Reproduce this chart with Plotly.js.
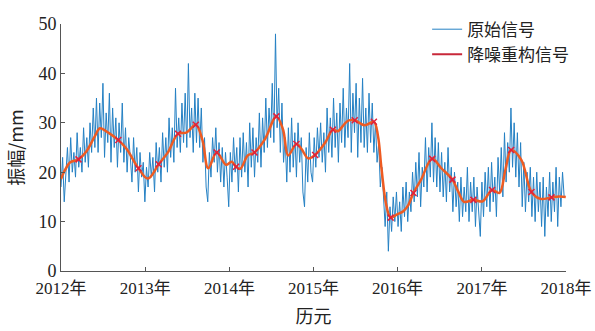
<!DOCTYPE html>
<html>
<head>
<meta charset="utf-8">
<script src="https://cdn.plot.ly/plotly-3.0.1.min.js"></script>
<style>html,body{margin:0;padding:0;background:#fff;}#chart{width:595px;height:331px;}</style>
</head>
<body>
<div id="chart"></div>
<script>
// Raw signal: weekly samples starting 2012-01-01
const rawStart = '2012-01-01';
const rawStepDays = 7;
const raw2012 = [17,23,14,21,25, 18,27,20,24, 19,28,21,25, 20,29,22,27,21, 30,24,33,25, 35,24,34,27, 38,23,32,26,36, 22,33,25,31, 21,30,24,34, 22,29,20,27,23, 18,27,20,25, 16,24,19,22];
const raw2013 = [14,21,17,24,19, 23,16,26,20, 25,18,28,21, 27,20,31,23,29, 22,37,25,31, 24,34,26,36, 25,42,27,33,24, 36,26,35,25, 33,22,27,17, 14,24,19,27,22, 29,20,26,18, 25,17,24,19];
const raw2014 = [13,24,18,27,20, 25,16,27,19, 28,20,26,17, 30,21,29,19,27, 22,32,21,31, 24,35,25,33, 27,38,26,48,29, 37,24,34,22, 27,18,29,20, 31,21,28,19,30, 22,27,16,13, 25,18,28,20];
const raw2015 = [18,27,21,29,23, 30,22,28,20, 33,24,31,23, 35,25,32,22,34, 26,37,25,33, 27,42,24,36, 28,38,23,35,26, 39,25,33,24, 36,26,34,24, 30,22,26,17,21, 14,9,16,4, 13,8,15,10];
const raw2016 = [16,9,14,8,17, 11,18,10,16, 12,20,14,22, 15,24,13,21,17, 27,16,25,19, 30,18,27,17, 26,16,24,15,22, 14,25,16,21, 12,20,13,18, 10,19,11,17,12, 21,10,18,12, 19,9,17,11];
const raw2017 = [7,18,11,20,13, 21,12,22,14, 19,11,23,16, 25,15,28,18,26, 20,33,21,30, 19,28,17,26, 13,22,12,20,14, 21,11,19,10, 20,12,18,9, 19,7,17,11,20, 10,18,12,21, 9,19,13,20,15];
const rawValues = [].concat(raw2012, raw2013, raw2014, raw2015, raw2016, raw2017);

// Denoised reconstruction
const denoisedDates = ['2012-01-01','2012-01-19','2012-02-10','2012-03-17','2012-04-20','2012-05-27','2012-06-18','2012-07-24','2012-09-06','2012-10-12','2012-12-02',
 '2013-01-12','2013-02-28','2013-04-09','2013-05-23','2013-06-28','2013-08-08','2013-09-06','2013-10-01','2013-11-07','2013-12-17',
 '2014-01-11','2014-01-30','2014-02-17','2014-03-22','2014-04-20','2014-06-03','2014-07-24','2014-08-22','2014-09-13','2014-10-19','2014-11-10','2014-12-09',
 '2015-01-08','2015-02-21','2015-03-26','2015-04-17','2015-05-16','2015-06-03','2015-06-29','2015-08-11','2015-09-20','2015-10-08','2015-10-23','2015-11-14','2015-12-02','2015-12-28',
 '2016-01-26','2016-02-17','2016-03-10','2016-04-12','2016-05-30','2016-07-09','2016-08-26','2016-09-21','2016-10-16','2016-11-25',
 '2017-01-04','2017-02-14','2017-03-18','2017-04-13','2017-05-08','2017-06-21','2017-08-04','2017-09-13','2017-10-30','2017-12-02','2017-12-31'];
const denoisedValues = [18.6,20.5,22.0,22.6,24.2,27.3,28.9,28.0,26.5,24.7,20.8,
 18.7,21.6,24.0,27.8,28.0,29.6,26.5,20.8,24.0,21.5,
 22.1,21.1,20.7,23.4,24.0,26.6,31.3,28.6,23.4,25.7,24.7,22.8,
 23.5,26.0,28.6,28.3,29.8,30.5,30.5,29.5,30.2,27.3,20.8,13.1,10.8,11.4,
 12.1,13.4,15.8,18.5,22.7,20.8,18.5,16.0,14.0,14.4,
 14.1,16.4,15.8,20.5,24.5,22.5,16.0,14.6,14.9,15.1,15.0];
// markers on the reconstruction
const markerDates = ['2012-03-17','2012-09-06','2012-12-02','2013-02-28','2013-05-23','2013-08-08','2013-11-07','2014-01-30','2014-04-20','2014-07-24','2014-10-19',
 '2015-01-08','2015-03-26','2015-06-29','2015-09-20','2015-12-02','2016-03-10','2016-05-30','2016-08-26','2016-11-25','2017-02-14','2017-05-08','2017-08-04','2017-10-30'];
const markerValues = [22.6,26.5,20.8,21.6,27.8,29.6,24.0,21.1,24.0,31.3,25.7,
 23.5,28.6,30.5,30.2,10.8,15.8,22.7,18.5,14.4,16.4,24.5,16.0,14.9];

const xTickVals = ['2012-01-01','2013-01-01','2014-01-01','2015-01-01','2016-01-01','2017-01-01','2018-01-01'];
const xTickText = ['2012年','2013年','2014年','2015年','2016年','2017年','2018年'];
const yTickVals = [0,10,20,30,40,50];
const seriesNames = ['原始信号','降噪重构信号'];

// build raw dates from regular sampling
const rawDates = [];
const t0 = new Date(rawStart + 'T00:00:00Z').getTime();
for (let i = 0; i < rawValues.length; i++) {
  const d = new Date(t0 + i * rawStepDays * 86400000);
  rawDates.push(d.toISOString().slice(0,10));
}

const FONT = 'Liberation Serif, "Noto Sans CJK SC", serif';

const traces = [
  {x: rawDates, y: rawValues, type: 'scatter', mode: 'lines', name: seriesNames[0],
   line: {color: '#2581c4', width: 1}},
  {x: denoisedDates, y: denoisedValues, type: 'scatter', mode: 'lines', name: seriesNames[1], showlegend: false,
   line: {color: '#ee5b22', width: 2.5, shape: 'spline', smoothing: 1}},
  {x: markerDates, y: markerValues, type: 'scatter', mode: 'markers', showlegend: false,
   marker: {symbol: 'x-thin', size: 6, color: '#e0203c', line: {color: '#e0203c', width: 1.5}}},
  {x: [null], y: [null], type: 'scatter', mode: 'lines', name: seriesNames[1],
   line: {color: '#c8283a', width: 2}}
];

const layout = {
  width: 595, height: 331,
  margin: {l: 61, r: 29, t: 13, b: 60},
  paper_bgcolor: '#fff', plot_bgcolor: '#fff',
  font: {family: FONT, size: 18, color: '#222'},
  showlegend: true,
  legend: {x: 0.725, y: 1.05, xanchor: 'left', yanchor: 'top', bgcolor: 'rgba(0,0,0,0)',
    font: {family: '"Noto Sans CJK SC", sans-serif', size: 17, color: '#222'}, tracegroupgap: 0},
  xaxis: {type: 'date', range: ['2012-01-01','2018-01-01'], tickmode: 'array', tickvals: xTickVals, ticktext: xTickText,
    showgrid: false, zeroline: false, showline: true, linecolor: '#555', linewidth: 1,
    ticks: 'inside', ticklen: 4, tickcolor: '#555', ticklabelstandoff: 2,
    tickfont: {family: FONT, size: 17, color: '#222'},
    title: {text: '历元', font: {family: '"Noto Sans CJK SC", sans-serif', size: 18, color: '#222'}, standoff: 12}},
  yaxis: {range: [0,50], tickmode: 'array', tickvals: yTickVals,
    showgrid: false, zeroline: false, showline: true, linecolor: '#555', linewidth: 1,
    ticks: 'inside', ticklen: 4, tickcolor: '#555', tickfont: {family: FONT, size: 18, color: '#222'},
    title: {text: '振幅/mm', font: {family: '"Noto Sans CJK SC", sans-serif', size: 18, color: '#222'}, standoff: 10}}
};

Plotly.newPlot('chart', traces, layout, {displayModeBar: false, staticPlot: true});
</script>
</body>
</html>
